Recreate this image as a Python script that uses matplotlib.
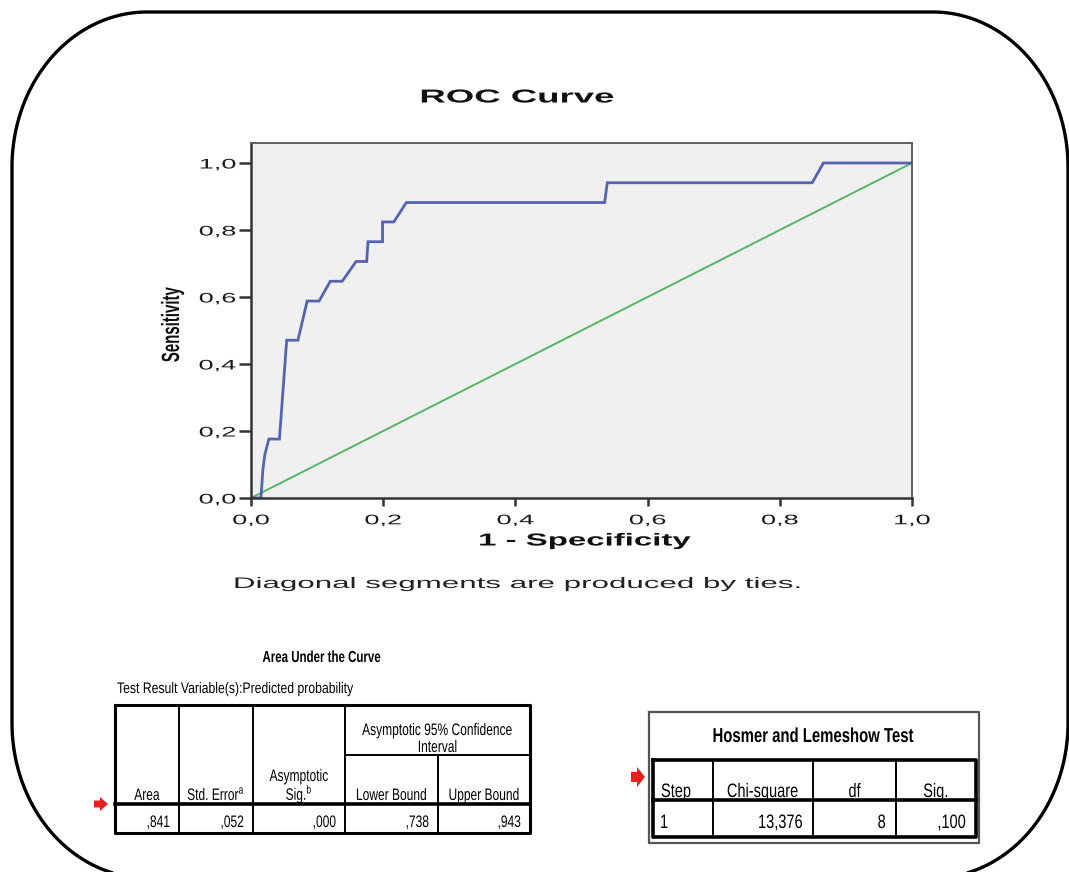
import matplotlib
matplotlib.use("Agg")
import matplotlib.pyplot as plt
import numpy as np
from matplotlib import patheffects
from matplotlib.patches import FancyArrow, Polygon
from matplotlib.transforms import Affine2D

# ROC curve (1 - specificity, sensitivity)
fpr = [0.0, 0.015, 0.018, 0.021, 0.027, 0.043, 0.054, 0.071, 0.085, 0.103,
       0.120, 0.138, 0.159, 0.175, 0.177, 0.199, 0.199, 0.216, 0.235, 0.535,
       0.539, 0.849, 0.866, 1.0]
tpr = [0.0, 0.0, 0.085, 0.13, 0.176, 0.176, 0.471, 0.471, 0.588, 0.588,
       0.647, 0.647, 0.706, 0.706, 0.765, 0.765, 0.824, 0.824, 0.882, 0.882,
       0.941, 0.941, 1.0, 1.0]
ref_line = [0.0, 1.0]

tick_vals = [0.0, 0.2, 0.4, 0.6, 0.8, 1.0]
tick_labels = ["0,0", "0,2", "0,4", "0,6", "0,8", "1,0"]

# Area Under the Curve table
auc_headers = ["Area", r"Std. Error$^{\mathrm{a}}$", "Asymptotic\n" + r"Sig.$^{\mathrm{b}}$",
               "Lower Bound", "Upper Bound"]
auc_values = [",841", ",052", ",000", ",738", ",943"]

# Hosmer and Lemeshow table
hl_headers = ["Step", "Chi-square", "df", "Sig."]
hl_values = ["1", "13,376", "8", ",100"]

FONT = "Liberation Sans"
BLUE = "#5464b0"
GREEN = "#55b567"
AXC = "#333333"

plt.rcParams["mathtext.fontset"] = "custom"
plt.rcParams["mathtext.rm"] = FONT


class Stretch(patheffects.AbstractPathEffect):
    """Widen / narrow the glyphs horizontally (the screenshot is stretched)."""

    def __init__(self, sx, about="center"):
        super().__init__()
        self.sx = sx
        self.about = about

    def draw_path(self, renderer, gc, tpath, affine, rgbFace=None):
        ext = tpath.get_extents()
        cx = {"left": 0.0, "center": (ext.x0 + ext.x1) / 2, "right": ext.x1}[self.about]
        pre = Affine2D().translate(-cx, 0).scale(self.sx, 1).translate(cx, 0)
        renderer.draw_path(gc, tpath, pre + affine, rgbFace)


def txt(ax, x, y, s, size, sx, ha="center", va="baseline", bold=False, **kw):
    return ax.text(x, y, s, fontsize=size, ha=ha, va=va, family=FONT,
                   fontweight="bold" if bold else "normal",
                   path_effects=[Stretch(sx, ha)], **kw)


def rounded_outline(x0, y0, x1, y1, rx, ry, n=60):
    pts = []
    corners = [((x0 + rx, y0 + ry), np.pi, 1.5 * np.pi),
               ((x1 - rx, y0 + ry), 1.5 * np.pi, 2 * np.pi),
               ((x1 - rx, y1 - ry), 0, 0.5 * np.pi),
               ((x0 + rx, y1 - ry), 0.5 * np.pi, np.pi)]
    for (cx, cy), a0, a1 in corners:
        a = np.linspace(a0, a1, n)
        pts.append(np.column_stack([cx + rx * np.cos(a), cy + ry * np.sin(a)]))
    return np.vstack(pts)


W, H = 1069, 872
fig = plt.figure(figsize=(W / 100, H / 100), dpi=100)
fig.patch.set_facecolor("white")

# background axes in pixel coordinates (y down) for the page furniture
bg = fig.add_axes([0, 0, 1, 1])
bg.set_xlim(0, W)
bg.set_ylim(H, 0)
bg.axis("off")

bg.add_patch(Polygon(rounded_outline(12, 12, 1068, 878, 135, 155), closed=True,
                     fill=False, ec="black", lw=2.4, clip_on=False))

# ---- ROC chart ----
left, right, bottom, top = 251, 912, 498, 143
ax = fig.add_axes([left / W, 1 - bottom / H, (right - left) / W, (bottom - top) / H])
ax.set_facecolor("#f0f0f0")
ax.set_xlim(0, 1)
ax.set_ylim(0, (bottom - top) / (bottom - 163))
ax.plot(ref_line, ref_line, color=GREEN, lw=1.4, solid_capstyle="butt")
ax.plot(fpr, tpr, color=BLUE, lw=2.0, solid_joinstyle="miter")
for name, sp in ax.spines.items():
    sp.set_color(AXC if name in ("left", "bottom") else "#555555")
    sp.set_linewidth(1.8 if name in ("left", "bottom") else 1.3)
ax.set_xticks(tick_vals, tick_labels)
ax.set_yticks(tick_vals, tick_labels)
ax.tick_params(axis="both", direction="out", color=AXC, width=1.8,
               labelsize=10, labelcolor="#1a1a1a")
ax.tick_params(axis="x", length=6, pad=5)
ax.tick_params(axis="y", length=9, pad=2)
for lbl in ax.get_xticklabels():
    lbl.set_family(FONT)
    lbl.set_path_effects([Stretch(1.95, "center")])
for lbl in ax.get_yticklabels():
    lbl.set_family(FONT)
    lbl.set_path_effects([Stretch(1.95, "right")])

txt(bg, 517, 98, "ROC Curve", 13.5, 1.95, va="center", bold=True, color="#111111")
txt(bg, 585, 541, "1 - Specificity", 12.5, 1.9, va="center", bold=True, color="#111111")
txt(bg, 172, 325, "Sensitivity", 18, 0.6, va="center", bold=True,
    rotation=90, color="#111111")
txt(bg, 517, 584, "Diagonal segments are produced by ties.", 11, 2.05,
    va="center", color="#222222")

# ---- Area Under the Curve table ----
cols = [115, 179, 253, 345, 438, 530]
t_top, t_sub, t_sep, t_bot = 705, 755, 804, 833
txt(bg, 322, 662, "Area Under the Curve", 11.5, 0.72, bold=True)
txt(bg, 117, 693, "Test Result Variable(s):Predicted probability", 11, 0.8, ha="left")
bg.plot([cols[0], cols[-1], cols[-1], cols[0], cols[0]],
        [t_top, t_top, t_bot, t_bot, t_top], color="black", lw=2.2)
for c in cols[1:4]:
    bg.plot([c, c], [t_top, t_bot], color="black", lw=1.4)
bg.plot([cols[4], cols[4]], [t_sub, t_bot], color="black", lw=1.4)
bg.plot([cols[3], cols[5]], [t_sub, t_sub], color="black", lw=1.4)
bg.plot([cols[0], cols[-1]], [t_sep, t_sep], color="black", lw=2.6)
txt(bg, (cols[3] + cols[5]) / 2, 735, "Asymptotic 95% Confidence", 12, 0.72)
txt(bg, (cols[3] + cols[5]) / 2, 752, "Interval", 12, 0.72)
for i, head in enumerate(auc_headers):
    cx = (cols[i] + cols[i + 1]) / 2
    lines = head.split("\n")
    for j, line in enumerate(lines):
        txt(bg, cx, 800 - 19 * (len(lines) - 1 - j), line, 12, 0.72)
    txt(bg, cols[i + 1] - 9, 827, auc_values[i], 12, 0.72, ha="right")

# ---- Hosmer and Lemeshow table ----
bg.plot([649, 979, 979, 649, 649], [712, 712, 843, 843, 712], color="#555555", lw=1.6)
txt(bg, 813, 742, "Hosmer and Lemeshow Test", 14.5, 0.74, bold=True)
hcols = [653, 713, 813, 896, 976]
h_top, h_sep, h_bot = 760, 800, 837
bg.plot([hcols[0], hcols[-1], hcols[-1], hcols[0], hcols[0]],
        [h_top, h_top, h_bot, h_bot, h_top], color="black", lw=2.6)
for c in hcols[1:-1]:
    bg.plot([c, c], [h_top, h_bot], color="black", lw=1.4)
bg.plot([hcols[0], hcols[-1]], [h_sep, h_sep], color="black", lw=2.6)
for i, head in enumerate(hl_headers):
    if i == 0:
        txt(bg, hcols[0] + 8, 797, head, 14, 0.75, ha="left")
        txt(bg, hcols[0] + 7, 828, hl_values[i], 14, 0.75, ha="left")
    else:
        txt(bg, (hcols[i] + hcols[i + 1]) / 2, 797, head, 14, 0.75)
        txt(bg, hcols[i + 1] - 10, 828, hl_values[i], 14, 0.75, ha="right")

# red pointer arrows
for x0, y0, hw in [(94, 804, 14), (631, 777, 20)]:
    bg.add_patch(FancyArrow(x0, y0, 6, 0, width=hw * 0.5, head_width=hw,
                            head_length=8, color="#e8201f", lw=0))

fig.savefig("out.png", dpi=100)
